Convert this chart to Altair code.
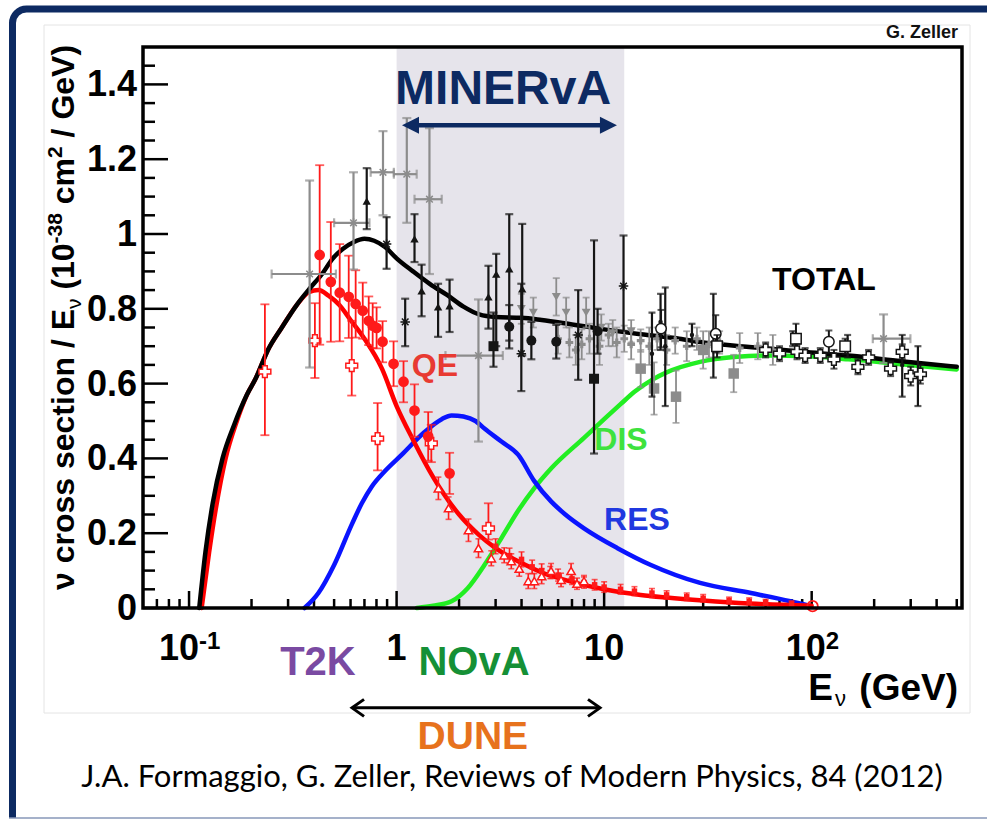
import altair as alt
import pandas as pd

W, H = 819, 561
XDOM = [0.06, 530]
YDOM = [0.0, 1.5]
FONT = "Liberation Sans"

# ---------------- model curves ----------------
total_E = [0.112, 0.12, 0.13, 0.145, 0.165, 0.19, 0.21, 0.24, 0.28, 0.33, 0.38, 0.44, 0.49, 0.55,
           0.62, 0.70, 0.78, 0.88, 1.0, 1.2, 1.45, 1.75, 2.1, 2.5, 3.0, 4.0, 5.0, 7.0, 10, 15, 23,
           30, 50, 90, 150, 270, 500]
total_y = [0.0, 0.15, 0.28, 0.40, 0.49, 0.57, 0.615, 0.69, 0.75, 0.81, 0.853, 0.895, 0.933, 0.96,
           0.978, 0.987, 0.982, 0.965, 0.935, 0.90, 0.866, 0.837, 0.806, 0.785, 0.778, 0.776, 0.77,
           0.758, 0.745, 0.732, 0.72, 0.71, 0.698, 0.685, 0.675, 0.66, 0.645]

qe_E = [0.115, 0.125, 0.135, 0.15, 0.17, 0.19, 0.21, 0.24, 0.28, 0.33, 0.38, 0.42, 0.47, 0.53, 0.6,
        0.7, 0.85, 1.0, 1.2, 1.5, 2.0, 2.5, 3.0, 4.0, 5.0, 7.0, 10, 15, 20, 30, 50, 100]
qe_y = [0.0, 0.15, 0.27, 0.40, 0.50, 0.57, 0.615, 0.69, 0.75, 0.81, 0.845, 0.85, 0.835, 0.81, 0.77,
        0.72, 0.64, 0.54, 0.45, 0.35, 0.25, 0.195, 0.16, 0.12, 0.095, 0.07, 0.05, 0.035, 0.028, 0.02,
        0.012, 0.006]

res_E = [0.36, 0.42, 0.50, 0.61, 0.68, 0.76, 0.875, 1.06, 1.36, 1.65, 1.84, 2.1, 2.4, 2.65, 3.2,
         3.85, 4.6, 5.55, 6.5, 8.0, 11.6, 16.8, 29, 51, 79, 99]
res_y = [0.0, 0.04, 0.115, 0.225, 0.28, 0.325, 0.365, 0.41, 0.47, 0.505, 0.515, 0.512, 0.50, 0.48,
         0.445, 0.41, 0.34, 0.285, 0.25, 0.213, 0.16, 0.115, 0.067, 0.04, 0.018, 0.005]

dis_E = [1.25, 1.5, 1.84, 2.2, 2.65, 3.2, 3.85, 4.6, 5.55, 8.0, 10, 12, 14, 17, 20, 29, 42, 61, 90,
         150, 270, 500]
dis_y = [0.0, 0.006, 0.018, 0.053, 0.115, 0.187, 0.26, 0.32, 0.373, 0.455, 0.505, 0.545, 0.578,
         0.61, 0.63, 0.658, 0.671, 0.675, 0.674, 0.665, 0.652, 0.638]

# ---------------- QE measurements (red) ----------------
qe_circ_E = [0.426, 0.482, 0.532, 0.588, 0.635, 0.687, 0.734, 0.767, 0.801, 0.856, 0.967, 1.08, 1.22, 1.42, 1.80]
qe_circ_y = [0.944, 0.872, 0.843, 0.832, 0.813, 0.795, 0.768, 0.755, 0.749, 0.712, 0.653, 0.605, 0.528, 0.459, 0.36]
qe_circ_e = [0.24, 0.16, 0.13, 0.11, 0.09, 0.075, 0.065, 0.06, 0.055, 0.055, 0.06, 0.055, 0.07, 0.065, 0.055]

qe_cross_E = [0.232, 0.404, 0.608, 0.81, 1.47, 2.77]
qe_cross_y = [0.632, 0.715, 0.648, 0.453, 0.44, 0.213]
qe_cross_hi = [0.18, 0.10, 0.12, 0.095, 0.05, 0.067]
qe_cross_lo = [0.17, 0.10, 0.08, 0.085, 0.05, 0.03]

qe_tri_E = [1.59, 1.78, 2.22, 2.48, 2.86, 3.30, 3.57, 4.31, 4.61, 5.55, 6.93, 8.0, 3.9, 5.0, 6.2, 7.4]
qe_tri_y = [0.32, 0.267, 0.208, 0.16, 0.133, 0.141, 0.125, 0.072, 0.072, 0.099, 0.099, 0.072,
            0.105, 0.085, 0.075, 0.065]
qe_tri_e = [0.03, 0.03, 0.03, 0.025, 0.02, 0.02, 0.02, 0.02, 0.02, 0.02, 0.02, 0.015,
            0.02, 0.02, 0.018, 0.015]

qe_sq_E = [3.0, 3.5, 4.0, 4.5, 5.0, 5.5, 6.0, 7.0, 8.0, 9.0, 10, 12, 14, 17, 20, 25, 30, 40, 50, 60, 80]
qe_sq_y = [0.165, 0.14, 0.13, 0.11, 0.10, 0.095, 0.088, 0.078, 0.068, 0.062, 0.056, 0.05, 0.045,
           0.04, 0.035, 0.03, 0.026, 0.02, 0.018, 0.015, 0.011]
qe_sq_e = [0.02, 0.02, 0.02, 0.018, 0.018, 0.016, 0.016, 0.015, 0.015, 0.014, 0.014, 0.013, 0.012,
           0.012, 0.011, 0.01, 0.01, 0.009, 0.009, 0.008, 0.008]

qe_ring_E = [101]
qe_ring_y = [0.005]

# ---------------- TOTAL measurements ----------------
tri_E = [0.718, 1.22, 1.32, 1.585, 1.80, 2.77, 3.02, 3.49, 4.03]
tri_y = [1.088, 0.987, 0.848, 0.805, 0.808, 0.832, 0.893, 0.907, 0.853]
tri_hi = [0.088, 0.066, 0.07, 0.062, 0.07, 0.083, 0.054, 0.146, 0.174]
tri_lo = [0.075, 0.062, 0.068, 0.08, 0.07, 0.085, 0.193, 0.192, 0.178]

star_E = [0.895, 1.10, 3.99, 12.4, 7.5]
star_y = [0.973, 0.765, 0.68, 0.861, 0.73]
star_hi = [0.072, 0.062, 0.187, 0.135, 0.12]
star_lo = [0.066, 0.065, 0.10, 0.12, 0.12]

bcirc_E = [3.49, 4.46, 5.88, 9.3]
bcirc_y = [0.752, 0.715, 0.712, 0.74]
bcirc_e = [0.058, 0.05, 0.045, 0.06]

bsq_E = [2.93, 8.94]
bsq_y = [0.70, 0.613]
bsq_hi = [0.09, 0.37]
bsq_lo = [0.055, 0.2]

gstar_E = [0.381, 0.62, 0.86, 1.12, 1.44, 2.48, 222]
gstar_y = [0.893, 1.03, 1.165, 1.16, 1.093, 0.675, 0.72]
gstar_xlo = [0.25, 0.50, 0.75, 0.97, 1.22, 1.72, 197]
gstar_xhi = [0.51, 0.74, 0.97, 1.25, 1.65, 3.25, 299]
gstar_hi = [0.25, 0.135, 0.11, 0.15, 0.19, 0.15, 0.065]
gstar_lo = [0.25, 0.125, 0.115, 0.13, 0.2, 0.23, 0.065]

gtri_E = [3.99, 4.56, 5.88, 6.56, 8.19, 9.69, 11.0, 13.5]
gtri_y = [0.80, 0.79, 0.832, 0.79, 0.79, 0.75, 0.735, 0.74]
gtri_e = [0.04, 0.04, 0.05, 0.04, 0.04, 0.035, 0.035, 0.03]

gsq_E = [17.4, 22.2, 42.1, 15.0, 30.0]
gsq_y = [0.587, 0.565, 0.627, 0.64, 0.69]
gsq_e = [0.07, 0.07, 0.05, 0.05, 0.05]

gdot_E = [6.0, 6.8, 7.3, 7.8, 8.5, 9.5, 10.5, 11.5, 12.5, 13.5, 15, 16.5, 18, 20, 22, 25, 28, 32,
          36, 45, 55, 65]
gdot_y = [0.72, 0.71, 0.69, 0.705, 0.72, 0.70, 0.73, 0.71, 0.72, 0.705, 0.715, 0.70, 0.72, 0.69,
          0.715, 0.70, 0.72, 0.705, 0.71, 0.695, 0.70, 0.69]
gdot_e = [0.04, 0.04, 0.04, 0.04, 0.04, 0.05, 0.03, 0.04, 0.035, 0.04, 0.03, 0.05, 0.03, 0.04,
          0.035, 0.04, 0.03, 0.035, 0.03, 0.04, 0.035, 0.04]

ocross_E = [60, 70, 85, 93, 110, 128, 167, 188, 240, 273, 300, 334]
ocross_y = [0.69, 0.68, 0.685, 0.675, 0.675, 0.665, 0.645, 0.67, 0.64, 0.685, 0.62, 0.625]
ocross_e = [0.02, 0.02, 0.02, 0.02, 0.02, 0.025, 0.02, 0.02, 0.02, 0.02, 0.025, 0.025]

osq_E = [35, 84, 145]
osq_y = [0.70, 0.72, 0.70]
osq_e = [0.03, 0.04, 0.02]

ocirc_E = [18.8, 34.5, 121]
ocirc_y = [0.747, 0.733, 0.712]
ocirc_e = [0.05, 0.05, 0.03]

bbar_E = [17.0, 18.7, 19.7, 26.5, 33.6, 81, 149, 273, 325]
bbar_y = [0.68, 0.765, 0.70, 0.73, 0.73, 0.72, 0.70, 0.65, 0.62]
bbar_hi = [0.11, 0.075, 0.157, 0.03, 0.11, 0.02, 0.03, 0.08, 0.08]
bbar_lo = [0.115, 0.075, 0.16, 0.03, 0.114, 0.02, 0.03, 0.085, 0.08]

# ---------------- axis ticks and labels ----------------
x_major = [0.1, 1, 10, 100]
x_minor = [0.07, 0.08, 0.09, 0.2, 0.3, 0.4, 0.5, 0.6, 0.7, 0.8, 0.9, 2, 3, 4, 5, 6, 7, 8, 9,
           20, 30, 40, 50, 60, 70, 80, 90, 200, 300, 400, 500]
y_major = [0, 0.2, 0.4, 0.6, 0.8, 1.0, 1.2, 1.4]
y_labels = ["0", "0.2", "0.4", "0.6", "0.8", "1", "1.2", "1.4"]
y_minor = [0.05, 0.1, 0.15, 0.25, 0.3, 0.35, 0.45, 0.5, 0.55, 0.65, 0.7, 0.75, 0.85, 0.9, 0.95,
           1.05, 1.1, 1.15, 1.25, 1.3, 1.35, 1.45]

# ---------------- helpers ----------------
xs = alt.Scale(type="log", domain=XDOM, nice=False)
ys = alt.Scale(domain=YDOM, nice=False, zero=False)


def X(f="E"):
    return alt.X(f"{f}:Q", scale=xs, axis=None, title=None)


def Y(f="y"):
    return alt.Y(f"{f}:Q", scale=ys, axis=None, title=None)


one = pd.DataFrame({"k": [0]})


def pix_rect(x, x2, y, y2, **kw):
    return alt.Chart(one).mark_rect(**kw).encode(
        x=alt.value(x), x2=alt.value(x2), y=alt.value(y), y2=alt.value(y2))


def pix_text(x, y, text, size, weight="bold", angle=0, align="left", baseline="alphabetic",
             color="black", font=FONT):
    return alt.Chart(one).mark_text(text=text, font=font, fontSize=size, fontWeight=weight,
                                    angle=angle, align=align, baseline=baseline, color=color).encode(
        x=alt.value(x), y=alt.value(y))


def mkdf(E, y, hi, lo=None, xlo=None, xhi=None):
    lo = hi if lo is None else lo
    d = pd.DataFrame({"E": E, "y": y})
    d["hi"] = [a + b for a, b in zip(y, hi)]
    d["lo"] = [a - b for a, b in zip(y, lo)]
    if xlo is not None:
        d["xlo"] = xlo
        d["xhi"] = xhi
    return d


def errbars(d, color, cap=8, w=1.8, hbar=False):
    b = alt.Chart(d)
    out = [
        b.mark_rule(color=color, strokeWidth=w).encode(x=X(), y=Y("lo"), y2="hi:Q"),
        b.mark_tick(color=color, orient="horizontal", size=cap, thickness=w).encode(x=X(), y=Y("lo")),
        b.mark_tick(color=color, orient="horizontal", size=cap, thickness=w).encode(x=X(), y=Y("hi")),
    ]
    if hbar:
        out += [
            b.mark_rule(color=color, strokeWidth=w).encode(x=X("xlo"), x2="xhi:Q", y=Y()),
            b.mark_tick(color=color, orient="vertical", size=cap, thickness=w).encode(x=X("xlo"), y=Y()),
            b.mark_tick(color=color, orient="vertical", size=cap, thickness=w).encode(x=X("xhi"), y=Y()),
        ]
    return out


ASTER = "M-1,0L1,0M0,-1L0,1M-0.7,-0.7L0.7,0.7M-0.7,0.7L0.7,-0.7"


def marks(d, shape, color, size, mode="filled", sw=1.5):
    if mode == "filled":
        m = alt.Chart(d).mark_point(shape=shape, filled=True, color=color, size=size, opacity=1)
    elif mode == "open":
        m = alt.Chart(d).mark_point(shape=shape, filled=True, fill="white", stroke=color,
                                    strokeWidth=sw, size=size, opacity=1)
    else:
        m = alt.Chart(d).mark_point(shape=shape, filled=False, color=color, strokeWidth=sw,
                                    size=size, opacity=1)
    return m.encode(x=X(), y=Y())


def curve(E, y, color):
    d = pd.DataFrame({"E": E, "y": y})
    return alt.Chart(d).mark_line(color=color, strokeWidth=4.5, interpolate="monotone",
                                  strokeCap="round").encode(x=X(), y=Y())


def label(E, y, text, size, color, weight="bold", font=FONT, align="center", baseline="middle", dx=0):
    d = pd.DataFrame({"E": [E], "y": [y]})
    return alt.Chart(d).mark_text(text=text, font=font, fontSize=size, fontWeight=weight, dx=dx,
                                  color=color, align=align, baseline=baseline).encode(x=X(), y=Y())


def xlabel(E, text, size, dx, align, ypix):
    d = pd.DataFrame({"E": [E]})
    return alt.Chart(d).mark_text(text=text, font=FONT, fontSize=size, fontWeight="bold", dx=dx,
                                  align=align, baseline="alphabetic", color="black").encode(
        x=X(), y=alt.value(ypix))


RED = "#ff1a1a"
BLK = "#151515"
GRY = "#8c8c8c"
NAVY = "#0d2a62"

layers = []

# page frame and white panel (pixel decorations relative to plot origin)
layers.append(alt.Chart(one).mark_rect(fill=None, stroke=NAVY, strokeWidth=7, cornerRadius=14).encode(
    x=alt.value(-130.5), x2=alt.value(870), y=alt.value(-38), y2=alt.value(800)))
layers.append(pix_rect(-143, 850, 771, 790, fill="white"))
layers.append(alt.Chart(one).mark_rule(color="#8797b8", strokeWidth=1.5).encode(
    x=alt.value(-134), x2=alt.value(850), y=alt.value(771)))
layers.append(pix_rect(-99, 827, -22, 666, fill="white", stroke="#e4e4e4", strokeWidth=1))

# MINERvA band
band = pd.DataFrame({"a": [1.0], "b": [12.5], "c": [0.0], "d": [1.5]})
layers.append(alt.Chart(band).mark_rect(color="#e6e4eb").encode(
    x=alt.X("a:Q", scale=xs, axis=None, title=None), x2="b:Q",
    y=alt.Y("c:Q", scale=ys, axis=None, title=None), y2="d:Q"))

# inward ticks
layers.append(alt.Chart(pd.DataFrame({"E": x_major})).mark_rule(color="black", strokeWidth=2.5).encode(
    x=X(), y=alt.value(H), y2=alt.value(H - 17)))
layers.append(alt.Chart(pd.DataFrame({"E": x_minor})).mark_rule(color="black", strokeWidth=2.5).encode(
    x=X(), y=alt.value(H), y2=alt.value(H - 9)))
layers.append(alt.Chart(pd.DataFrame({"y": y_major})).mark_rule(color="black", strokeWidth=2.5).encode(
    y=Y(), x=alt.value(0), x2=alt.value(25)))
layers.append(alt.Chart(pd.DataFrame({"y": y_minor})).mark_rule(color="black", strokeWidth=2.5).encode(
    y=Y(), x=alt.value(0), x2=alt.value(12)))

# tick labels
layers.append(alt.Chart(pd.DataFrame({"y": y_major, "t": y_labels})).mark_text(
    font=FONT, fontSize=36, fontWeight="bold", align="right", baseline="middle", color="black", dy=1).encode(
    y=Y(), x=alt.value(-6), text="t:N"))
XLB = H + 52
layers += [
    xlabel(0.1, "10", 36, -10, "center", XLB),
    xlabel(0.1, "-1", 24, 10, "left", XLB - 11),
    xlabel(1, "1", 36, 0, "center", XLB),
    xlabel(10, "10", 36, 0, "center", XLB),
    xlabel(100, "10", 36, -6, "center", XLB),
    xlabel(100, "2", 24, 14, "left", XLB - 11),
]

# y-axis title, composed of pieces (rotated, reading upwards)
TX = -69
layers += [
    pix_text(TX, 543, "ν cross section / E", 32, angle=270),
    pix_text(TX + 7, 262, "ν", 21, weight="normal", angle=270),
    pix_text(TX, 242.6, "(10", 32, angle=270),
    pix_text(TX - 12, 196.4, "-38", 21, angle=270),
    pix_text(TX, 157.2, "cm", 32, angle=270),
    pix_text(TX - 12, 111.0, "2", 21, angle=270),
    pix_text(TX, 90.4, "/ GeV)", 32, angle=270),
]

# model curves
layers.append(curve(dis_E, dis_y, "#22ee22"))
layers.append(curve(res_E, res_y, "#0a14ff"))
layers.append(curve(qe_E, qe_y, "#ff0000"))
layers.append(curve(total_E, total_y, "#000000"))

# QE data
d = mkdf(qe_sq_E, qe_sq_y, qe_sq_e)
layers += errbars(d, RED, cap=6, w=1.6) + [marks(d, "square", RED, 30)]
d = mkdf(qe_tri_E, qe_tri_y, qe_tri_e)
layers += errbars(d, RED, cap=6, w=1.6) + [marks(d, "triangle-up", RED, 70, mode="open")]
d = mkdf(qe_cross_E, qe_cross_y, qe_cross_hi, qe_cross_lo)
layers += errbars(d, RED, cap=9, w=1.8) + [marks(d, "cross", RED, 140, mode="open")]
d = mkdf(qe_circ_E, qe_circ_y, qe_circ_e)
layers += errbars(d, RED, cap=9, w=1.8) + [marks(d, "circle", RED, 115)]
d = pd.DataFrame({"E": qe_ring_E, "y": qe_ring_y})
layers.append(marks(d, "circle", RED, 110, mode="stroke", sw=1.8))

# TOTAL data (gray)
d = mkdf(gstar_E, gstar_y, gstar_hi, gstar_lo, gstar_xlo, gstar_xhi)
layers += errbars(d, GRY, cap=9, w=2.2, hbar=True) + [marks(d, ASTER, GRY, 90, mode="stroke")]
d = mkdf(gdot_E, gdot_y, gdot_e)
layers += errbars(d, GRY, cap=7, w=1.8) + [marks(d, "cross", GRY, 60)]
d = mkdf(gtri_E, gtri_y, gtri_e)
layers += errbars(d, GRY, cap=7, w=1.8) + [marks(d, "triangle-down", GRY, 80)]
d = mkdf(gsq_E, gsq_y, gsq_e)
layers += errbars(d, GRY, cap=7, w=1.8) + [marks(d, "square", GRY, 110)]

# TOTAL data (black)
d = mkdf(bbar_E, bbar_y, bbar_hi, bbar_lo)
layers += errbars(d, BLK, cap=7, w=2.2) + [marks(d, "circle", BLK, 20)]
d = mkdf(tri_E, tri_y, tri_hi, tri_lo)
layers += errbars(d, BLK, cap=8, w=2.2) + [marks(d, "triangle-up", BLK, 70)]
d = mkdf(star_E, star_y, star_hi, star_lo)
layers += errbars(d, BLK, cap=8, w=2.2) + [marks(d, ASTER, BLK, 90, mode="stroke")]
d = mkdf(bcirc_E, bcirc_y, bcirc_e)
layers += errbars(d, BLK, cap=8, w=2.2) + [marks(d, "circle", BLK, 100)]
d = mkdf(bsq_E, bsq_y, bsq_hi, bsq_lo)
layers += errbars(d, BLK, cap=8, w=2.2) + [marks(d, "square", BLK, 100)]
d = mkdf(ocirc_E, ocirc_y, ocirc_e)
layers += errbars(d, BLK, cap=7, w=2.0) + [marks(d, "circle", BLK, 110, mode="open")]
d = mkdf(osq_E, osq_y, osq_e)
layers += errbars(d, BLK, cap=7, w=2.0) + [marks(d, "square", BLK, 110, mode="open")]
d = mkdf(ocross_E, ocross_y, ocross_e)
layers += errbars(d, BLK, cap=7, w=2.0) + [marks(d, "cross", BLK, 140, mode="open")]

# MINERvA arrow
mline = pd.DataFrame({"E": [1.135], "E2": [10.8], "y": [1.291]})
layers.append(alt.Chart(mline).mark_rule(color=NAVY, strokeWidth=4.5).encode(
    x=X(), x2="E2:Q", y=Y()))
layers.append(marks(pd.DataFrame({"E": [1.062], "y": [1.291]}), "M0,0L1.7,-0.85L1.7,0.85Z", NAVY, 400))
layers.append(marks(pd.DataFrame({"E": [11.53], "y": [1.291]}), "M0,0L-1.7,-0.85L-1.7,0.85Z", NAVY, 400))

# DUNE arrow
dline = pd.DataFrame({"E": [0.615], "E2": [9.45], "y": [-0.267]})
layers.append(alt.Chart(dline).mark_rule(color="black", strokeWidth=3).encode(
    x=X(), x2="E2:Q", y=Y()))
layers.append(marks(pd.DataFrame({"E": [0.61], "y": [-0.267]}), "M1.2,-0.85L0,0L1.2,0.85", "black", 400,
                    mode="stroke", sw=3))
layers.append(marks(pd.DataFrame({"E": [9.55], "y": [-0.267]}), "M-1.2,-0.85L0,0L-1.2,0.85", "black", 400,
                    mode="stroke", sw=3))

# text labels
layers += [
    label(3.26, 1.385, "MINERvA", 48, NAVY),
    label(114.6, 0.877, "TOTAL", 32, "black"),
    label(1.53, 0.647, "QE", 32, "#e83a32"),
    label(12.06, 0.449, "DIS", 32, "#3ee23e"),
    label(14.4, 0.235, "RES", 32, "#2038e0"),
    label(507, 1.537, "G. Zeller", 18, "#111111", align="right"),
    label(0.418, -0.147, "T2K", 40, "#7a4aa2"),
    label(2.36, -0.147, "NOvA", 40, "#159036"),
    label(2.33, -0.345, "DUNE", 39, "#e7721d"),
    label(126.6, -0.246, "E", 37, "black", align="right", baseline="alphabetic"),
    label(129.5, -0.262, "ν", 22, "black", weight="normal", align="left", baseline="alphabetic"),
    label(507, -0.246, "(GeV)", 37, "black", align="right", baseline="alphabetic"),
    label(3.6, -0.455, "J.A. Formaggio, G. Zeller, Reviews of Modern Physics, 84 (2012)", 31, "black",
          weight="normal", font="Lato"),
]

# plot frame
layers.append(alt.Chart(one).mark_rect(fill=None, stroke="black", strokeWidth=3.5).encode(
    x=alt.value(0), x2=alt.value(W), y=alt.value(0), y2=alt.value(H)))

chart = alt.layer(*layers).properties(
    width=W, height=H,
    padding={"left": 143, "top": 47, "right": 25, "bottom": 213},
    autosize=alt.AutoSizeParams(type="none"),
).configure_view(strokeWidth=0).configure(background="white")

chart.save("out.html", embed_options={"renderer": "svg", "actions": False})
